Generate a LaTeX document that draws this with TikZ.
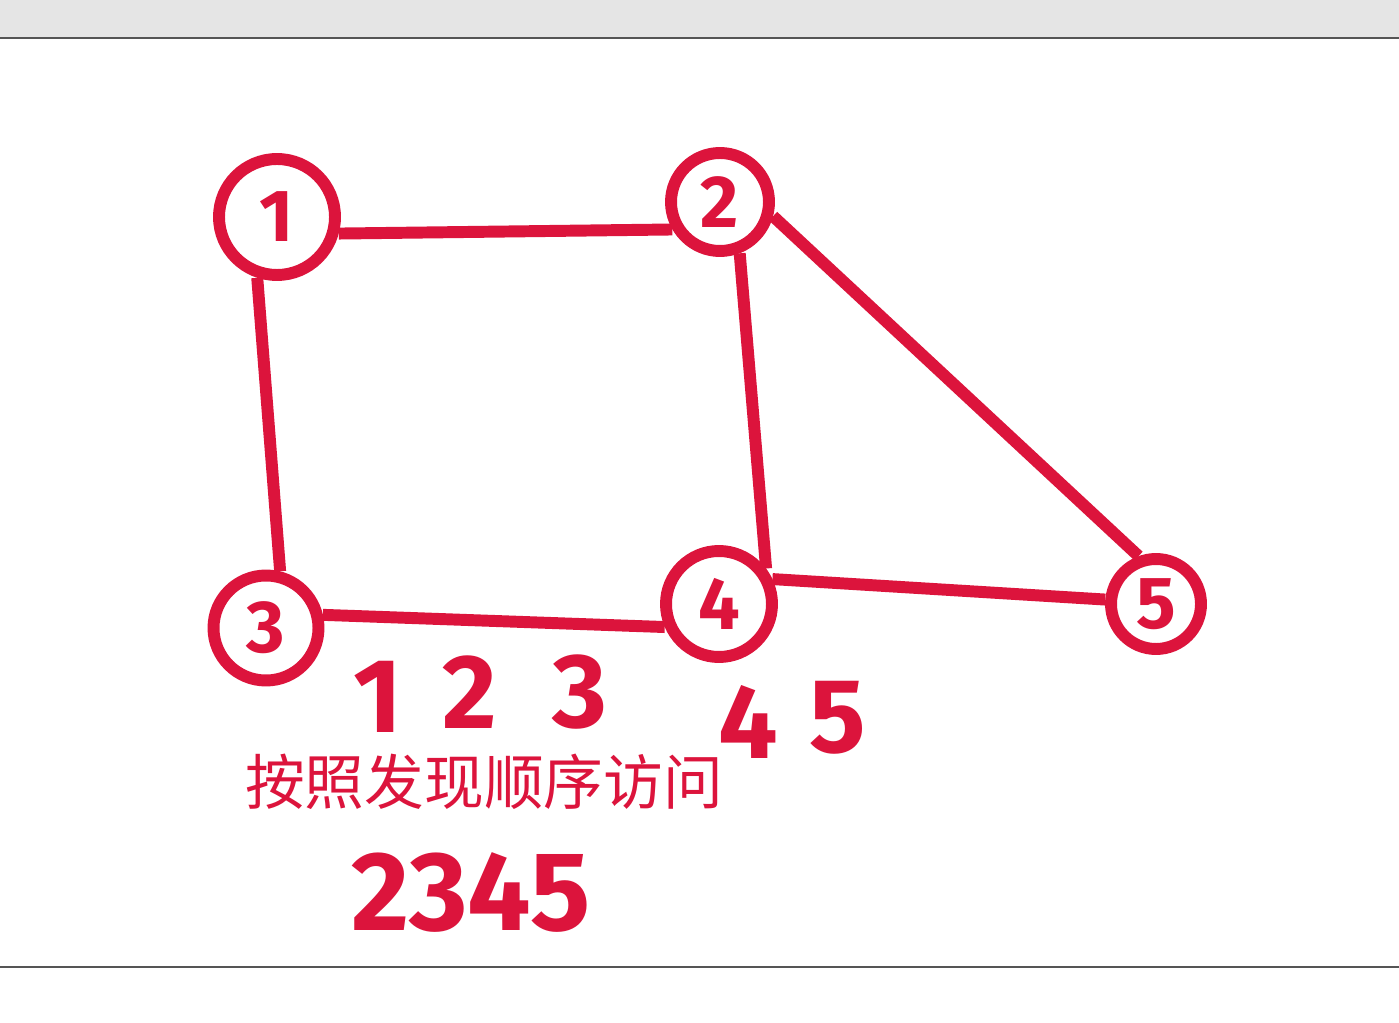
\documentclass[tikz,border=0pt]{standalone}
\usepackage{fontspec}
\setsansfont{Fira Sans}
\newfontfamily\cjk{Noto Sans CJK SC}
\definecolor{pen}{RGB}{220,20,60}
\definecolor{frame}{RGB}{85,85,85}
\tikzset{
  vertex/.style={circle, draw=pen, line width=6.8pt, text=pen, inner sep=0pt,
    font=\sffamily\bfseries\fontsize{42}{42}\selectfont},
  edge/.style={draw=pen, line width=6.8pt},
  digit/.style={text=pen, inner sep=0pt,
    font=\sffamily\bfseries\fontsize{60}{60}\selectfont},
}
\begin{document}
\begin{tikzpicture}[x=0.02cm, y=-0.02cm]
      \useasboundingbox (0,0) rectangle (1399,1023);
      \fill[white] (0,0) rectangle (1399,1023);

      % window frame
      \fill[gray!20] (0,0) rectangle (1399,37);
      \draw[frame, line width=1.2pt] (0,38) -- (1399,38);
      \draw[frame, line width=1.2pt] (0,967) -- (1399,967);

      \foreach \n/\x/\y/\d in {1/277/217/2.32, 2/720/202/1.96, 3/266/628/2.1,
                               4/719/604/2.12, 5/1156/604/1.8}
        \node[vertex, minimum size=\d cm] (v\n) at (\x,\y) {\n};

      \draw[edge] (v1.-15) -- (v2.210);
      \draw[edge] (v1.-108) -- (v3.76);
      \draw[edge] (v2.-69) -- (v4.37);
      \draw[edge] (v2.-15) -- (v5.110);
      \draw[edge] (v3.13) -- (v4.203);
      \draw[edge] (v4.25) -- (v5.175);

      % discovery order
      \foreach \d/\x/\y in {1/378/697, 2/470/692, 3/580/692, 4/748/722, 5/838/718}
        \node[digit] (r\d) at (\x,\y) {\d};

      \node[text=pen, font=\cjk\fontsize{34}{34}\selectfont] (order) at (484,782)
        {按照发现顺序访问};

      \node[digit, font=\sffamily\bfseries\fontsize{64}{64}\selectfont] (seq) at (471,892) {2345};
    \end{tikzpicture}
\end{document}
